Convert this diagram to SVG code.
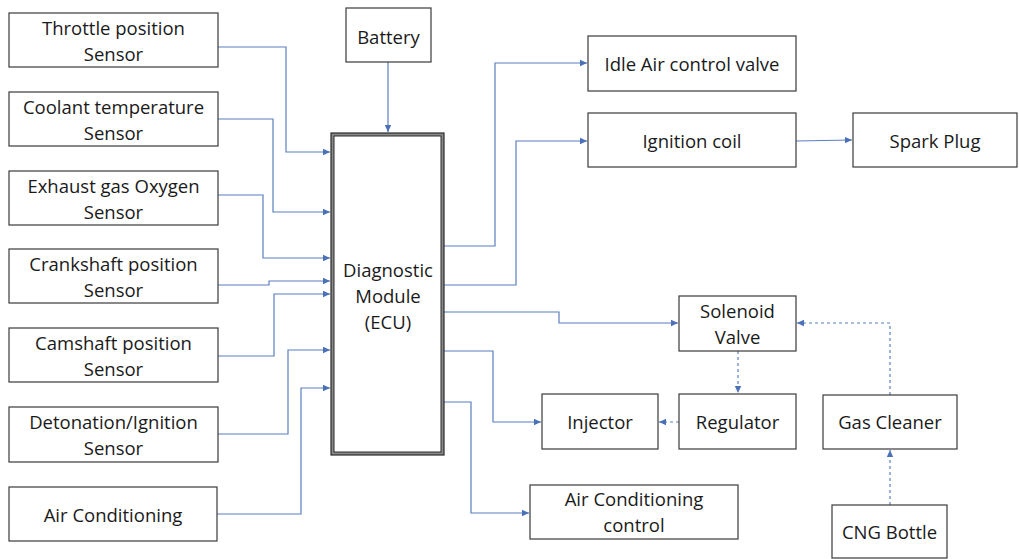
<svg xmlns="http://www.w3.org/2000/svg" width="1019" height="559" viewBox="0 0 1019 559">
<defs>
<style>
.box{fill:#fff;stroke:#3a3a3a;stroke-width:1.2}
.t{font-family:"Open Sans","Liberation Sans",sans-serif;font-size:18.5px;fill:#1a1a1a;text-anchor:middle;dominant-baseline:central}
.c{fill:none;stroke:#5a7fbf;stroke-width:1.2}
.d{fill:none;stroke:#5a7fbf;stroke-width:1.2;stroke-dasharray:3 3}
</style>
<marker id="a" markerWidth="8" markerHeight="8" refX="7" refY="4" orient="auto" markerUnits="userSpaceOnUse">
<path d="M0,0.8 L7,4 L0,7.2 z" fill="#4a70b8"/>
</marker>
</defs>
<rect width="1019" height="559" fill="#fff"/>
<g id="connectors">
<polyline class="c" points="218,47 286,47 286,152 330,152" marker-end="url(#a)"/>
<polyline class="c" points="218,119 273,119 273,212 330,212" marker-end="url(#a)"/>
<polyline class="c" points="218,195 263,195 263,258 330,258" marker-end="url(#a)"/>
<polyline class="c" points="218,285 269,285 269,281 330,281" marker-end="url(#a)"/>
<polyline class="c" points="218,356 274,356 274,294 330,294" marker-end="url(#a)"/>
<polyline class="c" points="218,434 288,434 288,350 330,350" marker-end="url(#a)"/>
<polyline class="c" points="217,514 301,514 301,388 330,388" marker-end="url(#a)"/>
<line class="c" x1="388" y1="62" x2="388" y2="132" marker-end="url(#a)"/>
<polyline class="c" points="444,246 495,246 495,63 587,63" marker-end="url(#a)"/>
<polyline class="c" points="444,285 516,285 516,141 587,141" marker-end="url(#a)"/>
<line class="c" x1="796" y1="141" x2="852" y2="140" marker-end="url(#a)"/>
<polyline class="c" points="444,312 559,312 559,323 678,323" marker-end="url(#a)"/>
<polyline class="c" points="444,351 493,351 493,422 541,422" marker-end="url(#a)"/>
<polyline class="c" points="444,402 471,402 471,513 529,513" marker-end="url(#a)"/>
<line class="d" x1="679" y1="422" x2="659" y2="422" marker-end="url(#a)"/>
<line class="d" x1="738" y1="351" x2="738" y2="393" marker-end="url(#a)"/>
<polyline class="d" points="890,395 890,323 797,323" marker-end="url(#a)"/>
<line class="d" x1="890" y1="505" x2="890" y2="450" marker-end="url(#a)"/>
</g>
<g id="throttle"><rect class="box" x="9" y="13" width="209" height="54"/><text class="t" x="113.5" y="27">Throttle position</text><text class="t" x="113.5" y="53">Sensor</text></g>
<g id="coolant"><rect class="box" x="9" y="92" width="209" height="54"/><text class="t" x="113.5" y="106">Coolant temperature</text><text class="t" x="113.5" y="132">Sensor</text></g>
<g id="exhaust"><rect class="box" x="9" y="171" width="209" height="54"/><text class="t" x="113.5" y="185">Exhaust gas Oxygen</text><text class="t" x="113.5" y="211">Sensor</text></g>
<g id="crankshaft"><rect class="box" x="9" y="249" width="209" height="54"/><text class="t" x="113.5" y="263">Crankshaft position</text><text class="t" x="113.5" y="289">Sensor</text></g>
<g id="camshaft"><rect class="box" x="9" y="328" width="209" height="54"/><text class="t" x="113.5" y="342">Camshaft position</text><text class="t" x="113.5" y="368">Sensor</text></g>
<g id="detonation"><rect class="box" x="9" y="407" width="209" height="55"/><text class="t" x="113.5" y="421">Detonation/Ignition</text><text class="t" x="113.5" y="447">Sensor</text></g>
<g id="aircon"><rect class="box" x="9" y="487" width="208" height="54"/><text class="t" x="113" y="514">Air Conditioning</text></g>
<g id="battery"><rect class="box" x="346" y="8" width="85" height="54"/><text class="t" x="388.5" y="36">Battery</text></g>
<g id="ecu">
<rect x="331" y="133" width="113" height="322" fill="#8a8a8a" stroke="#2a2a2a" stroke-width="1.2"/>
<rect x="334" y="136" width="107" height="316" fill="#fff" stroke="#2a2a2a" stroke-width="1"/>
<text class="t" x="388" y="269">Diagnostic</text><text class="t" x="388" y="295">Module</text><text class="t" x="388" y="321">(ECU)</text>
</g>
<g id="idle"><rect class="box" x="588" y="36" width="208" height="55"/><text class="t" x="692" y="63">Idle Air control valve</text></g>
<g id="ignition"><rect class="box" x="588" y="113" width="208" height="54"/><text class="t" x="692" y="140">Ignition coil</text></g>
<g id="spark"><rect class="box" x="853" y="113" width="164" height="54"/><text class="t" x="935" y="140">Spark Plug</text></g>
<g id="solenoid"><rect class="box" x="679" y="296" width="117" height="55"/><text class="t" x="737.5" y="310">Solenoid</text><text class="t" x="737.5" y="336">Valve</text></g>
<g id="injector"><rect class="box" x="542" y="394" width="116" height="55"/><text class="t" x="600" y="421">Injector</text></g>
<g id="regulator"><rect class="box" x="679" y="394" width="117" height="55"/><text class="t" x="737.5" y="421">Regulator</text></g>
<g id="gascleaner"><rect class="box" x="823" y="395" width="134" height="54"/><text class="t" x="890" y="421">Gas Cleaner</text></g>
<g id="cng"><rect class="box" x="832" y="505" width="115" height="53"/><text class="t" x="889.5" y="531">CNG Bottle</text></g>
<g id="accontrol"><rect class="box" x="530" y="485" width="208" height="54"/><text class="t" x="634" y="498">Air Conditioning</text><text class="t" x="634" y="524">control</text></g>
</svg>
